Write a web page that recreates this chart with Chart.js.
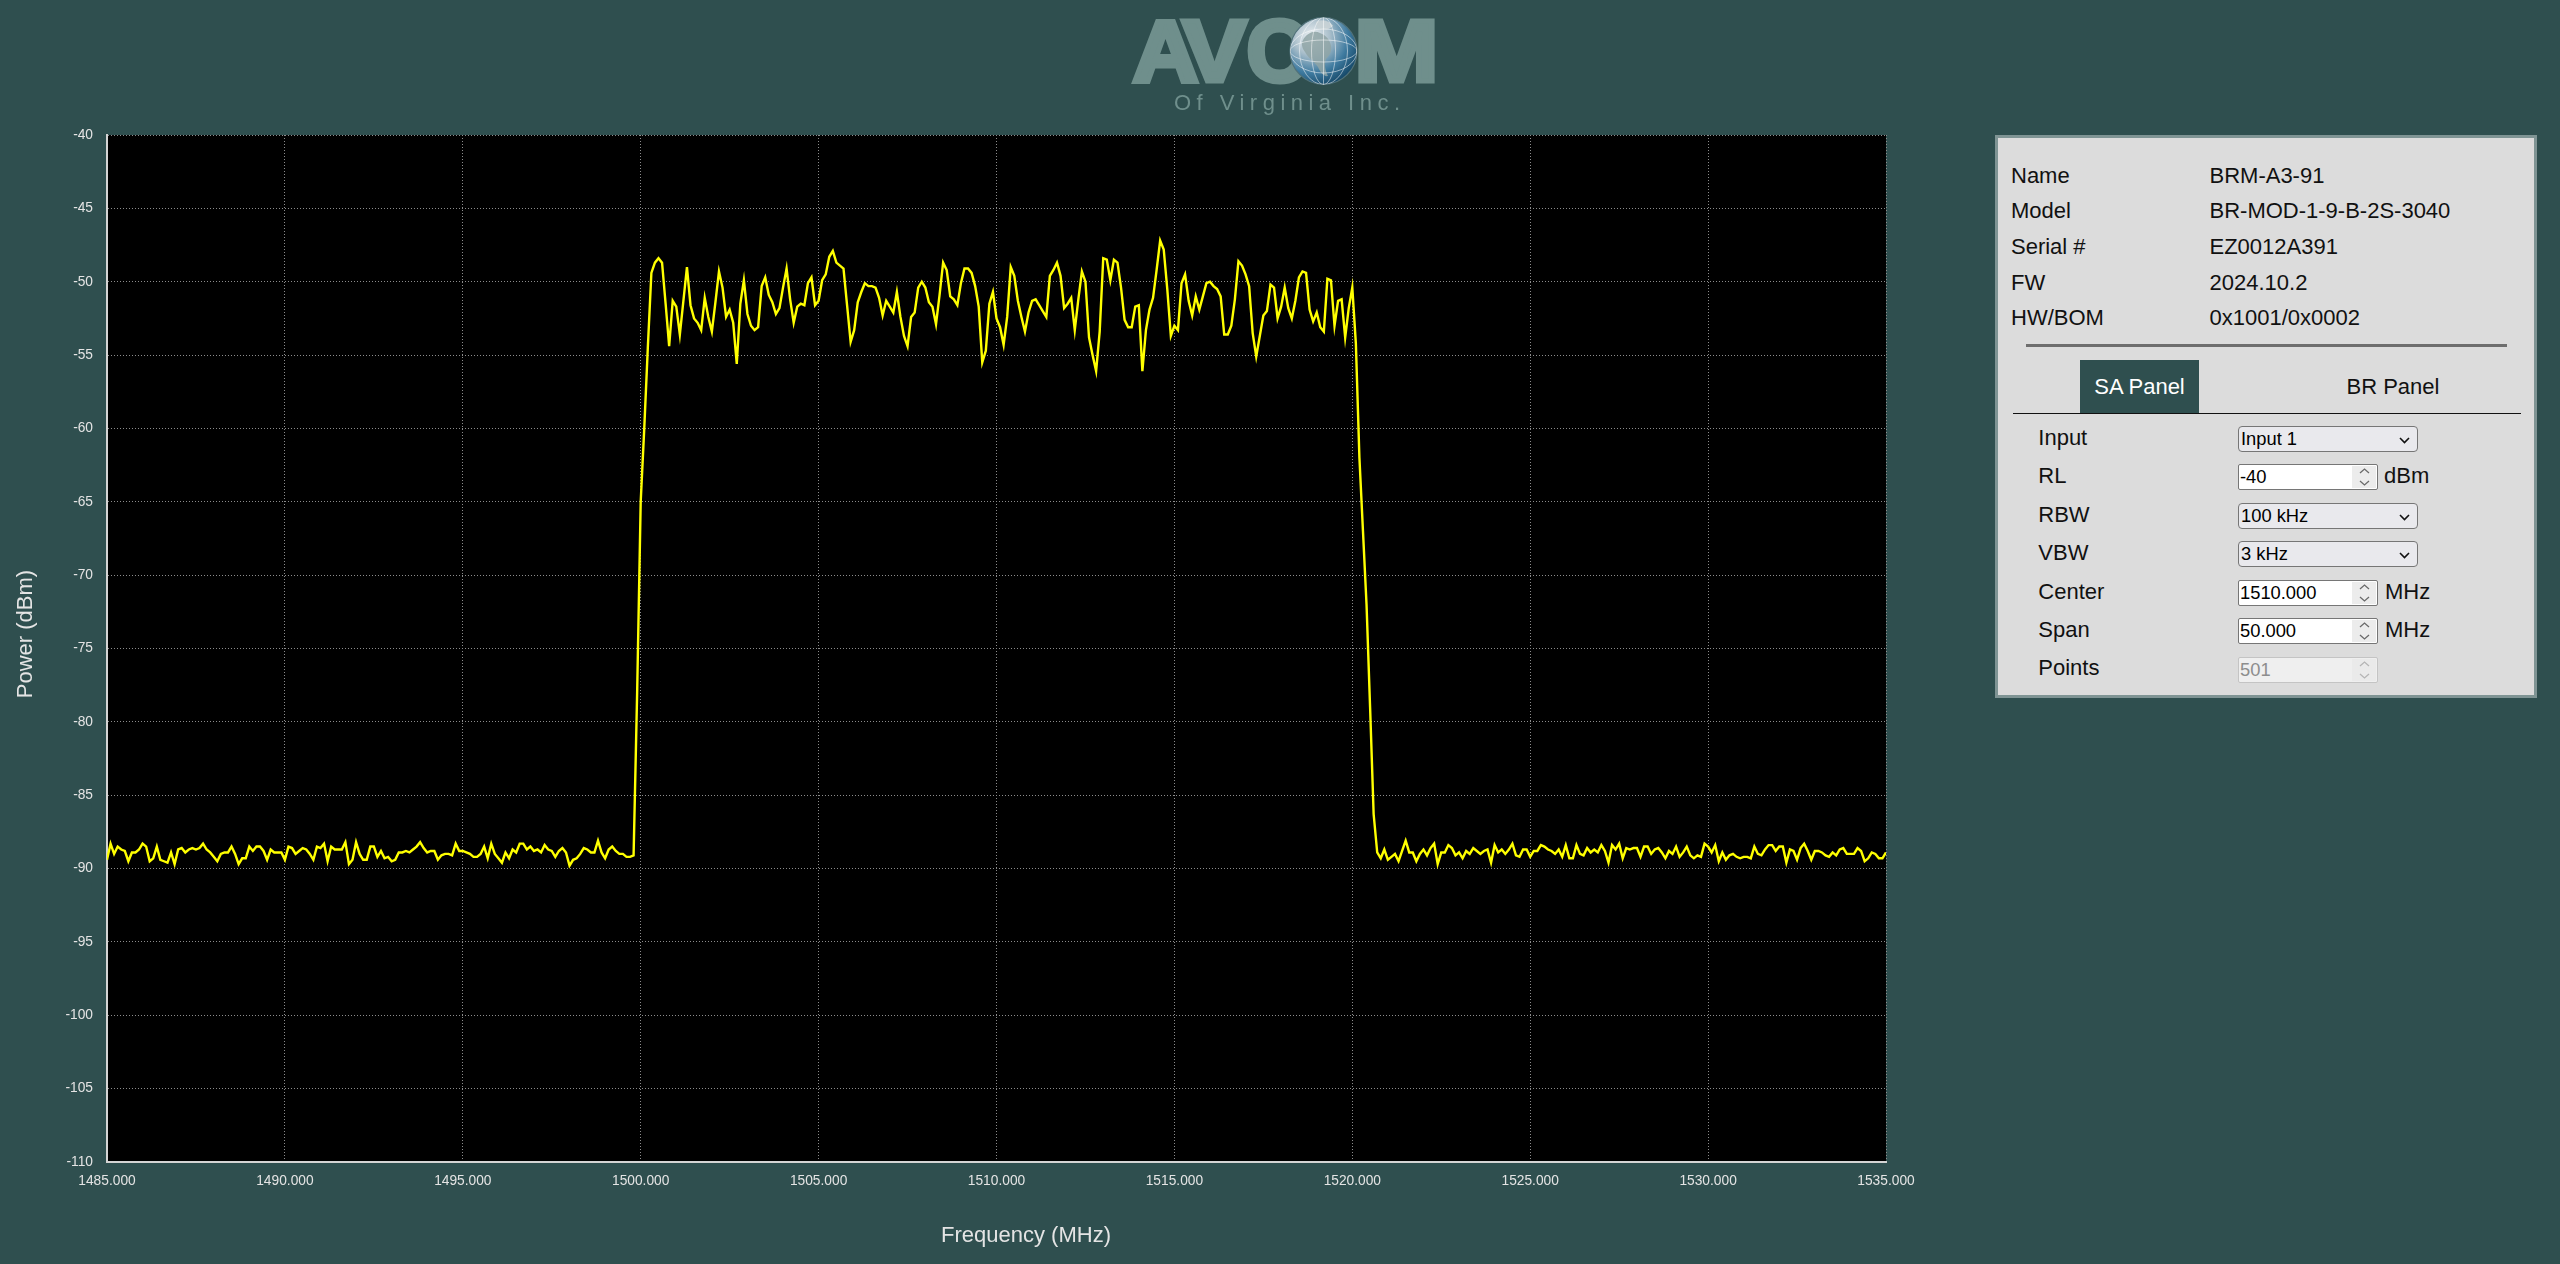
<!DOCTYPE html>
<html>
<head>
<meta charset="utf-8">
<script src="https://cdn.jsdelivr.net/npm/chart.js@4.4.1/dist/chart.umd.min.js"></script>
<style>
html,body{margin:0;padding:0;background:#2f4f4f;width:2560px;height:1264px;overflow:hidden;font-family:Arial,"Liberation Sans",sans-serif;}
#chartWrap{position:absolute;left:0;top:0;width:2052px;height:1264px;}
#logo{position:absolute;left:1100px;top:0;}
#panel{position:absolute;left:1995px;top:135px;width:542px;height:563px;box-sizing:border-box;border:3px solid #7f9494;background:#dcdcdc;}
.t{position:absolute;font-size:22px;line-height:26px;height:26px;color:#111;white-space:nowrap;}
#sep{position:absolute;left:27.6px;top:206px;width:481px;height:3px;background:#6e6e6e;}
#tabSA{position:absolute;left:82px;top:222px;width:119px;height:53px;background:#2f4f4f;color:#fff;font-size:22px;line-height:53px;text-align:center;}
#tabBR{position:absolute;left:335px;top:235.7px;width:120px;font-size:22px;line-height:26px;text-align:center;color:#111;}
#tabLine{position:absolute;left:14.5px;top:274.7px;width:508.5px;height:1.5px;background:#111;}
.sel{position:absolute;left:240px;width:180px;height:26px;box-sizing:border-box;border:1px solid #767676;border-radius:4px;background:#e9e9ed;font-size:18.33px;line-height:24px;padding-left:2px;color:#000;}
.sel svg{position:absolute;left:160px;top:10px;}
.num{position:absolute;left:240px;width:140px;height:26px;box-sizing:border-box;border:1px solid #767676;border-radius:2px;background:#fff;font-size:18.33px;line-height:24px;padding-left:1px;color:#000;}
.num .spin{position:absolute;left:112.5px;top:1px;width:24.5px;height:22px;background:#ececec;}
.num .spin svg{position:absolute;left:0;top:0;}
.num.dis{background:#efefef;border-color:#c4c4c4;color:#8d8d8d;}
.num.dis .spin{background:#eaeaea;}
</style>
</head>
<body>
<div id="chartWrap"><canvas id="c" width="2052" height="1264"></canvas></div>

<svg id="logo" width="400" height="130" viewBox="0 0 400 130">
  <defs>
    <radialGradient id="gl" cx="32%" cy="28%" r="78%">
      <stop offset="0" stop-color="#eef2f4"/>
      <stop offset="0.35" stop-color="#aabfcb"/>
      <stop offset="0.7" stop-color="#3f7ba0"/>
      <stop offset="1" stop-color="#154868"/>
    </radialGradient>
    <clipPath id="gc"><circle cx="223.5" cy="51" r="33.5"/></clipPath>
  </defs>
  <g fill="#6f8f8c" stroke="#6f8f8c" stroke-width="5" stroke-linejoin="miter" font-family="Liberation Sans, Arial, sans-serif" font-weight="bold" font-size="88">
    <text x="32.5" y="81" textLength="66" lengthAdjust="spacingAndGlyphs">A</text>
    <text x="82.5" y="81" textLength="64" lengthAdjust="spacingAndGlyphs">V</text>
    <text x="146.5" y="81" textLength="62" lengthAdjust="spacingAndGlyphs">C</text>
    <text x="254.5" y="81" textLength="84" lengthAdjust="spacingAndGlyphs">M</text>
  </g>
  <circle cx="223.5" cy="51" r="33.5" fill="url(#gl)" stroke="#51727a" stroke-width="1.2"/>
  <g clip-path="url(#gc)">
    <path d="M203 40 C207 33 214 30 220 33 C226 35 230 40 231 46 C232 52 229 56 226 59 C224 64 225 70 228 76 C224 77 220 72 218 67 C214 61 208 58 205 52 C202 48 201 44 203 40 Z" fill="#8fa4a6" opacity="0.85"/>
    <path d="M216 22 C222 19 230 21 233 26 C229 30 222 31 217 28 Z" fill="#c9d3d6" opacity="0.9"/>
    <g fill="none" stroke="#ffffff" stroke-opacity="0.5" stroke-width="1">
      <ellipse cx="223.5" cy="51" rx="12" ry="33.5"/>
      <ellipse cx="223.5" cy="51" rx="24" ry="33.5"/>
      <ellipse cx="223.5" cy="51" rx="33.5" ry="11"/>
      <ellipse cx="223.5" cy="51" rx="33.5" ry="22"/>
      <line x1="223.5" y1="17" x2="223.5" y2="85"/>
    </g>
  </g>
  <text x="74" y="110" font-family="Liberation Sans, Arial, sans-serif" font-size="22" fill="#6f8f8c" textLength="226" lengthAdjust="spacing">Of Virginia Inc.</text>
</svg>

<div id="panel">
  <div class="t" style="left:13px;top:24.5px">Name</div>
  <div class="t" style="left:211.5px;top:24.5px">BRM-A3-91</div>
  <div class="t" style="left:13px;top:60px">Model</div>
  <div class="t" style="left:211.5px;top:60px">BR-MOD-1-9-B-2S-3040</div>
  <div class="t" style="left:13px;top:95.8px">Serial #</div>
  <div class="t" style="left:211.5px;top:95.8px">EZ0012A391</div>
  <div class="t" style="left:13px;top:131.6px">FW</div>
  <div class="t" style="left:211.5px;top:131.6px">2024.10.2</div>
  <div class="t" style="left:13px;top:167px">HW/BOM</div>
  <div class="t" style="left:211.5px;top:167px">0x1001/0x0002</div>
  <div id="sep"></div>
  <div id="tabSA">SA Panel</div>
  <div id="tabBR">BR Panel</div>
  <div id="tabLine"></div>

  <div class="t" style="left:40.3px;top:286.7px">Input</div>
  <div class="sel" style="top:287.7px">Input 1<svg width="11" height="7"><polyline points="1,1 5.5,5.5 10,1" fill="none" stroke="#111" stroke-width="1.6"/></svg></div>

  <div class="t" style="left:40.3px;top:325.2px">RL</div>
  <div class="num" style="top:326.3px">-40<div class="spin"><svg width="25" height="22"><polyline points="8,7 12.5,3 17,7" fill="none" stroke="#6a6a6a" stroke-width="1.3"/><polyline points="8,15 12.5,19 17,15" fill="none" stroke="#6a6a6a" stroke-width="1.3"/></svg></div></div>
  <div class="t" style="left:386px;top:325.2px">dBm</div>

  <div class="t" style="left:40.3px;top:363.6px">RBW</div>
  <div class="sel" style="top:364.7px">100 kHz<svg width="11" height="7"><polyline points="1,1 5.5,5.5 10,1" fill="none" stroke="#111" stroke-width="1.6"/></svg></div>

  <div class="t" style="left:40.3px;top:402.1px">VBW</div>
  <div class="sel" style="top:403px">3 kHz<svg width="11" height="7"><polyline points="1,1 5.5,5.5 10,1" fill="none" stroke="#111" stroke-width="1.6"/></svg></div>

  <div class="t" style="left:40.3px;top:440.5px">Center</div>
  <div class="num" style="top:442px">1510.000<div class="spin"><svg width="25" height="22"><polyline points="8,7 12.5,3 17,7" fill="none" stroke="#6a6a6a" stroke-width="1.3"/><polyline points="8,15 12.5,19 17,15" fill="none" stroke="#6a6a6a" stroke-width="1.3"/></svg></div></div>
  <div class="t" style="left:387px;top:440.5px">MHz</div>

  <div class="t" style="left:40.3px;top:479px">Span</div>
  <div class="num" style="top:480.3px">50.000<div class="spin"><svg width="25" height="22"><polyline points="8,7 12.5,3 17,7" fill="none" stroke="#6a6a6a" stroke-width="1.3"/><polyline points="8,15 12.5,19 17,15" fill="none" stroke="#6a6a6a" stroke-width="1.3"/></svg></div></div>
  <div class="t" style="left:387px;top:479px">MHz</div>

  <div class="t" style="left:40.3px;top:517.4px">Points</div>
  <div class="num dis" style="top:518.7px">501<div class="spin"><svg width="25" height="22"><polyline points="8,7 12.5,3 17,7" fill="none" stroke="#b5b5b5" stroke-width="1.3"/><polyline points="8,15 12.5,19 17,15" fill="none" stroke="#b5b5b5" stroke-width="1.3"/></svg></div></div>
</div>

<script>
// ---- data ----
const startMHz = 1485;
const stepMHz = 0.1;

const leftFloor = [
 -89.4,-88.3,-89.0,-88.5,-88.7,-88.8,-89.5,-88.9,-88.9,-88.7,
 -88.3,-88.5,-89.5,-89.3,-88.5,-89.4,-89.5,-89.6,-88.9,-89.7,
 -88.7,-88.6,-88.9,-88.7,-88.6,-88.7,-88.6,-88.3,-88.7,-88.9,
 -89.2,-89.5,-89.0,-88.9,-88.9,-88.5,-89.0,-89.7,-89.3,-89.3,
 -88.5,-88.8,-88.5,-88.5,-88.8,-89.4,-88.7,-88.9,-88.9,-88.9,
 -89.4,-88.5,-88.6,-89.0,-88.8,-88.6,-88.7,-89.0,-89.4,-88.5,
 -88.6,-88.3,-89.5,-88.5,-88.7,-88.7,-88.7,-88.2,-89.7,-89.4,
 -88.2,-89.0,-89.4,-89.4,-88.5,-88.5,-89.2,-88.8,-89.3,-89.2,
 -89.5,-89.4,-88.9,-88.9,-88.8,-88.9,-88.7,-88.5,-88.2,-88.6,
 -88.9,-88.8,-88.8,-89.4,-89.1,-89.0,-89.0,-89.1,-88.3,-88.8,
 -88.8,-88.9,-89.0,-89.2,-89.2,-89.0,-88.5,-89.3,-88.3,-89.0,
 -89.3,-89.6,-88.9,-89.3,-88.7,-88.9,-88.3,-88.3,-88.7,-88.5,
 -88.8,-88.7,-88.9,-88.4,-88.7,-88.8,-89.2,-88.8,-88.6,-88.9,-89.8,
 -89.4,-89.3,-89.0,-88.6,-88.7,-88.9,-88.9,-88.1,-88.9,-89.3,
 -88.7,-88.5,-88.8,-89.0,-89.0,-89.2,-89.2,-89.1
];

const riseEdge = [-78.0,-65.0,-60.0,-54.5];

const passband = [
 -49.4,-48.7,-48.4,-48.7,-51.5,-54.4,-51.3,-51.7,-53.6,-51.3,
 -49.0,-51.6,-52.5,-52.8,-53.3,-51.1,-52.4,-53.4,-51.4,-49.3,
 -50.4,-52.4,-51.9,-52.8,-55.6,-51.5,-49.9,-52.2,-53.0,-53.3,
 -53.1,-50.3,-49.7,-50.9,-51.4,-52.2,-51.8,-50.4,-49.1,-51.2,
 -52.8,-51.7,-51.5,-51.6,-50.1,-49.7,-51.6,-51.3,-49.9,-49.5,
 -48.3,-47.9,-48.7,-48.9,-49.1,-51.6,-54.1,-53.3,-51.4,-50.7,
 -50.1,-50.3,-50.3,-50.4,-51.1,-52.3,-51.3,-51.7,-52.1,-50.7,
 -52.4,-53.7,-54.4,-52.4,-52.1,-50.4,-50.0,-50.4,-51.4,-51.7,
 -52.9,-50.9,-48.7,-49.2,-51.0,-51.2,-51.6,-50.1,-49.1,-49.1,
 -49.4,-50.3,-51.7,-55.5,-54.7,-51.5,-50.7,-52.5,-53.1,-54.3,
 -52.4,-49.0,-49.6,-51.3,-52.4,-53.4,-52.1,-51.3,-51.2,-51.6,
 -52.0,-52.4,-49.6,-49.2,-48.7,-49.6,-51.8,-51.5,-51.1,-53.3,
 -51.2,-49.3,-50.0,-53.8,-55.0,-56.1,-53.4,-48.4,-48.5,-49.9,
 -48.5,-48.7,-50.4,-52.6,-53.1,-53.1,-51.7,-51.6,-56.1,-53.3,
 -51.9,-51.1,-49.2,-47.2,-47.8,-50.5,-53.7,-53.0,-53.3,-50.1,
 -49.5,-51.3,-52.3,-51.0,-51.9,-51.0,-50.1,-50.0,-50.3,-50.5,
 -51.0,-53.6,-53.6,-53.0,-51.2,-48.6,-48.9,-49.5,-50.3,-53.5,
 -55.1,-53.7,-52.3,-52.0,-50.2,-50.4,-52.5,-51.7,-50.4,-51.8,
 -52.5,-51.3,-49.7,-49.3,-49.4,-51.9,-52.7,-52.1,-53.1,-53.4,
 -49.8,-49.9,-53.0,-51.3,-51.2,-53.8,-51.8,-50.4
];

const fallEdge = [-54.2,-62.0,-67.0,-72.0,-79.0,-86.3];

const rightFloor = [
 -88.9,-89.3,-88.7,-89.4,-89.2,-89.0,-89.5,-88.8,-88.1,-88.9,
 -88.9,-89.5,-89.0,-88.7,-89.1,-88.6,-88.3,-89.7,-88.9,
 -88.9,-88.4,-88.6,-89.1,-88.9,-89.3,-88.8,-89.0,-88.6,-88.8,
 -89.0,-88.8,-88.7,-89.6,-88.4,-88.9,-88.7,-89.0,-88.7,-88.3,
 -89.1,-89.2,-88.7,-88.7,-89.2,-88.8,-88.8,-88.4,-88.5,-88.7,
 -88.8,-89.0,-88.7,-89.2,-88.4,-89.3,-89.3,-88.4,-89.0,-89.1,
 -88.6,-88.9,-88.7,-88.9,-88.4,-88.8,-89.6,-88.4,-88.7,-88.3,
 -89.3,-88.6,-88.7,-88.6,-88.6,-89.2,-88.5,-88.5,-89.0,-88.7,
 -88.6,-88.9,-89.3,-88.8,-89.0,-88.5,-89.2,-88.9,-88.5,-89.1,
 -89.3,-89.1,-89.2,-88.3,-88.5,-88.9,-88.4,-89.5,-88.9,-89.4,
 -89.1,-89.0,-89.2,-89.3,-89.2,-89.2,-89.3,-88.5,-89.0,-89.1,
 -88.7,-88.4,-88.4,-88.8,-88.5,-88.5,-89.6,-88.7,-88.8,-89.4,
 -88.6,-88.3,-88.8,-89.4,-88.8,-88.8,-88.9,-89.1,-89.2,-88.9,
 -89.1,-88.7,-88.6,-89.0,-89.0,-89.0,-88.6,-88.8,-89.5,-89.3,
 -88.9,-89.0,-89.3,-89.3,-88.9
];

const powerDbm = [...leftFloor, ...riseEdge, ...passband, ...fallEdge, ...rightFloor];
const freqMHz = powerDbm.map((_, i) => +(startMHz + i * stepMHz).toFixed(1));

const xTickValues = [1485, 1490, 1495, 1500, 1505, 1510, 1515, 1520, 1525, 1530, 1535];
const yTickValues = [-40, -45, -50, -55, -60, -65, -70, -75, -80, -85, -90, -95, -100, -105, -110];

const xAxisTitle = 'Frequency (MHz)';
const yAxisTitle = 'Power (dBm)';

// ---- chart ----
const plotBg = {
  id: 'plotBg',
  beforeDraw(chart) {
    const a = chart.chartArea, ctx = chart.ctx;
    ctx.save();
    ctx.fillStyle = '#000';
    ctx.fillRect(a.left, a.top, a.right - a.left, a.bottom - a.top);
    ctx.restore();
  }
};
const axisTitles = {
  id: 'axisTitles',
  afterDraw(chart) {
    const ctx = chart.ctx;
    ctx.save();
    ctx.font = '22px Arial, "Liberation Sans", sans-serif';
    ctx.fillStyle = '#e4e4e4';
    ctx.textAlign = 'center';
    ctx.textBaseline = 'middle';
    ctx.fillText(xAxisTitle, chart.width / 2, 1236);
    ctx.translate(26, chart.height / 2 + 2);
    ctx.rotate(-Math.PI / 2);
    ctx.fillText(yAxisTitle, 0, 0);
    ctx.restore();
  }
};

const tickFont = {family: 'Arial, "Liberation Sans", sans-serif', size: 13.75};

new Chart(document.getElementById('c'), {
  type: 'line',
  data: {
    datasets: [{
      data: freqMHz.map((f, i) => ({x: f, y: powerDbm[i]})),
      borderColor: '#ffff00',
      borderWidth: 2.4,
      pointRadius: 0,
      tension: 0,
      fill: false
    }]
  },
  options: {
    responsive: false,
    animation: false,
    events: [],
    layout: {padding: {top: 135, right: 166, bottom: 0, left: 0}},
    plugins: {legend: {display: false}, tooltip: {enabled: false}},
    scales: {
      x: {
        type: 'linear', min: 1485, max: 1535,
        afterFit: s => { s.height = 102; },
        afterBuildTicks: s => { s.ticks = xTickValues.map(v => ({value: v})); },
        ticks: {color: '#e4e4e4', font: tickFont, padding: 11, maxRotation: 0, autoSkip: false,
                callback: v => Number(v).toFixed(3)},
        grid: {color: '#8c8c8c', lineWidth: 1, drawTicks: false},
        border: {display: true, color: '#d4d4d4', width: 2, dash: [1, 2]}
      },
      y: {
        type: 'linear', min: -110, max: -40,
        afterFit: s => { s.width = 107; },
        afterBuildTicks: s => { s.ticks = yTickValues.map(v => ({value: v})); },
        ticks: {color: '#e4e4e4', font: tickFont, padding: 14, autoSkip: false,
                callback: v => String(v)},
        grid: {color: '#8c8c8c', lineWidth: 1, drawTicks: false},
        border: {display: true, color: '#d4d4d4', width: 2, dash: [1, 2]}
      }
    }
  },
  plugins: [plotBg, axisTitles]
});
</script>
</body>
</html>
